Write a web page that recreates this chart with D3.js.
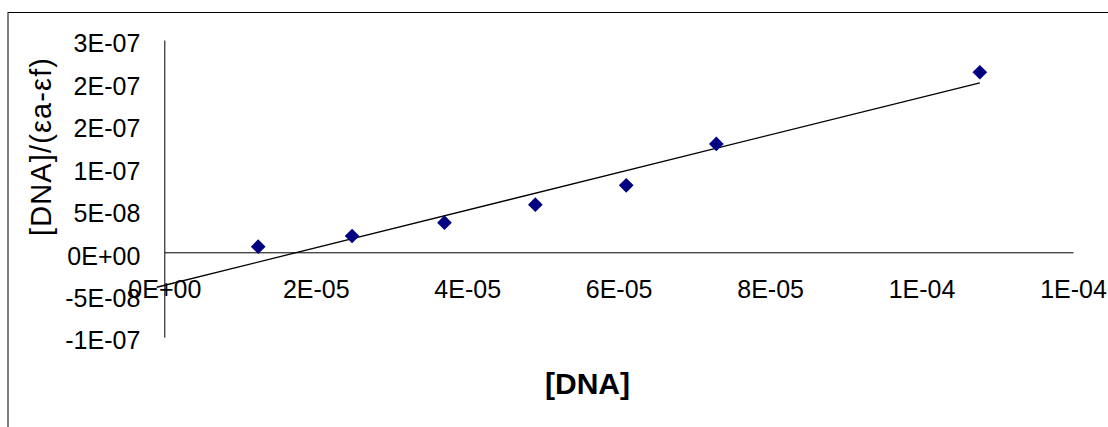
<!DOCTYPE html>
<html>
<head>
<meta charset="utf-8">
<script src="https://cdn.jsdelivr.net/npm/d3@7"></script>
<style>
  html, body { margin: 0; padding: 0; background: #fff; }
  svg { display: block; }
  text { font-family: "Liberation Sans", Arial, sans-serif; fill: #000; }
</style>
</head>
<body>
<svg id="chart" width="1108" height="427"></svg>
<script>
// [DNA] concentration (M) and [DNA]/(εa-εf) for each titration point
const dnaConc = [1.24e-5, 2.48e-5, 3.70e-5, 4.90e-5, 6.10e-5, 7.29e-5, 1.077e-4];
const ratio   = [0.66e-8, 1.92e-8, 3.49e-8, 5.61e-8, 7.89e-8, 12.76e-8, 21.2e-8];

// Axis ticks and their printed labels
const xTicks      = [0, 2e-5, 4e-5, 6e-5, 8e-5, 1e-4, 1.2e-4];
const xTickLabels = ["0E+00", "2E-05", "4E-05", "6E-05", "8E-05", "1E-04", "1E-04"];
const yTicks      = [-1e-7, -5e-8, 0, 5e-8, 1e-7, 1.5e-7, 2e-7, 2.5e-7];
const yTickLabels = ["-1E-07", "-5E-08", "0E+00", "5E-08", "1E-07", "2E-07", "2E-07", "3E-07"];

// Linear trendline, extended slightly backward
const trendFrom = -1e-6;

const svg = d3.select("#chart");

// Outer chart frame (runs off the right and bottom edges)
svg.append("rect")
  .attr("x", 8).attr("y", 12.5)
  .attr("width", 1200).attr("height", 500)
  .attr("fill", "#fff").attr("stroke", "#000").attr("stroke-width", 1);

const x = d3.scaleLinear().domain([0, 1.2e-4]).range([164.3, 1073]);
const y = d3.scaleLinear().domain([-1e-7, 2.5e-7]).range([337.2, 40]);

// Y axis
const yAxis = svg.append("g")
  .attr("transform", `translate(${x(0)},0)`)
  .call(d3.axisLeft(y)
    .tickValues(yTicks)
    .tickFormat((d, i) => yTickLabels[i])
    .tickSize(0)
    .tickPadding(24));
yAxis.select(".domain").attr("stroke", "#000").attr("stroke-width", 1);
yAxis.selectAll("text")
  .attr("font-size", 25)
  .attr("font-family", "Liberation Sans, Arial, sans-serif")
  .attr("dy", "0.47em");

// X axis along y = 0
const xAxis = svg.append("g")
  .attr("transform", `translate(0,${y(0)})`)
  .call(d3.axisBottom(x)
    .tickValues(xTicks)
    .tickFormat((d, i) => xTickLabels[i])
    .tickSize(0)
    .tickPadding(0));
xAxis.select(".domain").attr("stroke", "#000").attr("stroke-width", 1);
xAxis.selectAll("text")
  .attr("font-size", 25)
  .attr("font-family", "Liberation Sans, Arial, sans-serif")
  .attr("y", 37)
  .attr("dy", "0.35em");

// Least-squares fit
const n = dnaConc.length;
const mx = d3.mean(dnaConc), my = d3.mean(ratio);
let sxy = 0, sxx = 0;
for (let i = 0; i < n; i++) {
  sxy += (dnaConc[i] - mx) * (ratio[i] - my);
  sxx += (dnaConc[i] - mx) ** 2;
}
const slope = sxy / sxx;
const intercept = my - slope * mx;
const trendX = [trendFrom, d3.max(dnaConc)];

svg.append("path")
  .datum(trendX)
  .attr("fill", "none")
  .attr("stroke", "#000")
  .attr("stroke-width", 1.3)
  .attr("d", d3.line().x(d => x(d)).y(d => y(slope * d + intercept)));

// Data markers (diamonds)
const diamond = d3.symbol().type(d3.symbolSquare).size(108);
svg.append("g").selectAll("path")
  .data(dnaConc.map((d, i) => [d, ratio[i]]))
  .join("path")
  .attr("d", diamond)
  .attr("transform", d => `translate(${x(d[0])},${y(d[1])}) rotate(45)`)
  .attr("fill", "#000080");

// Axis titles
svg.append("text")
  .attr("x", 587.5).attr("y", 383)
  .attr("text-anchor", "middle")
  .attr("dominant-baseline", "central")
  .attr("font-size", 30)
  .attr("font-weight", "bold")
  .text("[DNA]");

svg.append("text")
  .attr("transform", "translate(51,147) rotate(-90)")
  .attr("text-anchor", "middle")
  .attr("font-size", 29)
  .attr("textLength", 178)
  .attr("lengthAdjust", "spacing")
  .text("[DNA]/(εa-εf)");
</script>
</body>
</html>
